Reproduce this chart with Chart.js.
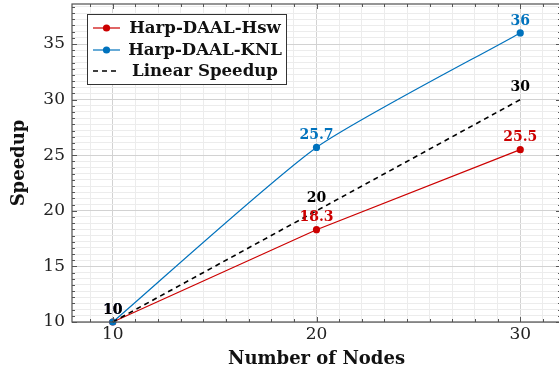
<!DOCTYPE html>
<html>
<head>
<meta charset="utf-8">
<script src="https://cdn.jsdelivr.net/npm/chart.js@4.4.1/dist/chart.umd.min.js"></script>
<style>
  html, body { margin: 0; padding: 0; background: #ffffff; overflow: hidden; }
  #wrap { width: 565px; height: 372px; position: relative; }
</style>
</head>
<body>
<div id="wrap"><canvas id="c"></canvas></div>
<script>
// ---- data ----
const nodes = [10, 20, 30];
const hswSpeedup = [10, 18.3, 25.5];
const knlSpeedup = [10, 25.7, 36];
const linearSpeedup = [10, 20, 30];
const seriesNames = ['Harp-DAAL-Hsw', 'Harp-DAAL-KNL', 'Linear Speedup'];
const xTickLabels = [10, 20, 30];
const yTickLabels = [10, 15, 20, 25, 30, 35];
const xRange = [8, 32];
const yRange = [10, 38.6];
const minorPerMajor = 8;

const RED = '#cc0000';
const BLUE = '#0072bd';
const BLACK = '#000000';
const SERIF = '"DejaVu Serif", serif';

function pts(ys) { return nodes.map((x, i) => ({ x: x, y: ys[i] })); }
function isIn(arr, v) { return arr.some(t => Math.abs(t - v) < 1e-6); }
function buildTicks(labels, lo, hi) {
  const step = (labels[1] - labels[0]) / (minorPerMajor + 1);
  const out = [];
  const kmin = Math.ceil((lo - labels[0]) / step - 1e-9);
  const kmax = Math.floor((hi - labels[0]) / step + 1e-9);
  for (let k = kmin; k <= kmax; k++) out.push({ value: labels[0] + k * step });
  return out;
}

const boxAndTicks = {
  id: 'boxAndTicks',
  afterDatasetsDraw(chart) {
    const ctx = chart.ctx, a = chart.chartArea;
    const xs = chart.scales.x, ys = chart.scales.y;
    ctx.save();
    ctx.strokeStyle = '#555555';
    ctx.lineWidth = 1;
    xs.ticks.forEach(t => {
      const p = Math.round(xs.getPixelForValue(t.value)) + 0.5;
      const len = isIn(xTickLabels, t.value) ? 5 : 3;
      ctx.beginPath();
      ctx.moveTo(p, a.bottom); ctx.lineTo(p, a.bottom - len);
      ctx.moveTo(p, a.top); ctx.lineTo(p, a.top + len);
      ctx.stroke();
    });
    ys.ticks.forEach(t => {
      const p = Math.round(ys.getPixelForValue(t.value)) + 0.5;
      const len = isIn(yTickLabels, t.value) ? 5 : 3;
      ctx.beginPath();
      ctx.moveTo(a.left, p); ctx.lineTo(a.left + len, p);
      ctx.moveTo(a.right, p); ctx.lineTo(a.right - len, p);
      ctx.stroke();
    });
    ctx.lineWidth = 1.2;
    ctx.strokeStyle = '#505050';
    ctx.strokeRect(a.left, a.top, a.right - a.left, a.bottom - a.top);
    ctx.restore();
  }
};

const valueLabels = {
  id: 'valueLabels',
  afterDatasetsDraw(chart) {
    const ctx = chart.ctx;
    ctx.save();
    ctx.font = 'bold 14px ' + SERIF;
    ctx.textAlign = 'center';
    ctx.textBaseline = 'middle';
    chart.data.datasets.forEach((ds, i) => {
      const meta = chart.getDatasetMeta(i);
      ctx.fillStyle = ds.labelColor;
      meta.data.forEach((pt, j) => {
        const v = ds.data[j].y;
        ctx.fillText(String(v), pt.x, pt.y - 12);
      });
    });
    ctx.restore();
  }
};

const boxLegend = {
  id: 'boxLegend',
  afterDraw(chart) {
    const ctx = chart.ctx;
    const L = 87, T = 14, R = 287, B = 85;
    ctx.save();
    ctx.fillStyle = '#ffffff';
    ctx.fillRect(L, T, R - L, B - T);
    ctx.strokeStyle = '#333333';
    ctx.lineWidth = 1;
    ctx.strokeRect(L + 0.5, T + 0.5, R - L - 1, B - T - 1);
    const rows = [28, 50, 71];
    chart.data.datasets.forEach((ds, i) => {
      const y = rows[i];
      ctx.strokeStyle = ds.borderColor;
      ctx.lineWidth = ds.borderWidth;
      ctx.setLineDash(ds.borderDash || []);
      ctx.beginPath();
      ctx.moveTo(93, y); ctx.lineTo(120, y);
      ctx.stroke();
      ctx.setLineDash([]);
      if (ds.pointRadius > 0) {
        ctx.fillStyle = ds.pointBackgroundColor;
        ctx.beginPath();
        ctx.arc(106.5, y, 3.6, 0, Math.PI * 2);
        ctx.fill();
      }
      ctx.fillStyle = '#111111';
      ctx.font = 'bold 16.6px ' + SERIF;
      ctx.textAlign = 'center';
      ctx.textBaseline = 'middle';
      ctx.fillText(ds.label, 205, y + 1);
    });
    ctx.restore();
  }
};

new Chart(document.getElementById('c'), {
  type: 'line',
  data: {
    datasets: [
      { label: seriesNames[0], data: pts(hswSpeedup), borderColor: RED, backgroundColor: RED,
        pointBackgroundColor: RED, pointBorderWidth: 0, pointRadius: 3.6, borderWidth: 1.2,
        tension: 0, labelColor: RED, order: 3, clip: false },
      { label: seriesNames[1], data: pts(knlSpeedup), borderColor: BLUE, backgroundColor: BLUE,
        pointBackgroundColor: BLUE, pointBorderWidth: 0, pointRadius: 3.6, borderWidth: 1.2,
        tension: 0.2, labelColor: BLUE, order: 2, clip: false },
      { label: seriesNames[2], data: pts(linearSpeedup), borderColor: BLACK, backgroundColor: BLACK,
        pointRadius: 0, borderWidth: 1.6, borderDash: [5, 4],
        tension: 0, labelColor: BLACK, order: 1, clip: false }
    ]
  },
  options: {
    responsive: true,
    maintainAspectRatio: false,
    devicePixelRatio: 1,
    animation: false,
    events: [],
    layout: { padding: { top: 4, right: 3, left: 0, bottom: 0 } },
    plugins: { legend: { display: false }, tooltip: { enabled: false } },
    scales: {
      x: {
        type: 'linear',
        min: xRange[0], max: xRange[1],
        afterBuildTicks(s) { s.ticks = buildTicks(xTickLabels, xRange[0], xRange[1]); },
        afterFit(s) { s.height = 50; s.paddingLeft = 0; s.paddingRight = 0; },
        border: { display: false },
        grid: {
          drawTicks: false,
          color: c => isIn(xTickLabels, c.tick.value) ? '#d2d2d2' : '#ececec',
          lineWidth: 1
        },
        ticks: {
          autoSkip: false, maxRotation: 0, padding: 2,
          color: '#222222',
          font: { family: SERIF, size: 17 },
          callback: v => isIn(xTickLabels, v) ? String(Math.round(v)) : ''
        },
        title: {
          display: true, text: 'Number of Nodes', color: '#111111',
          font: { family: SERIF, size: 18, weight: 'bold' },
          padding: { top: 0, bottom: 2 }
        }
      },
      y: {
        type: 'linear',
        min: yRange[0], max: yRange[1],
        afterBuildTicks(s) { s.ticks = buildTicks(yTickLabels, yRange[0], yRange[1]); },
        afterFit(s) { s.width = 72; s.paddingTop = 0; s.paddingBottom = 0; },
        border: { display: false },
        grid: {
          drawTicks: false,
          color: c => isIn(yTickLabels, c.tick.value) ? '#d2d2d2' : '#ececec',
          lineWidth: 1
        },
        ticks: {
          autoSkip: false, padding: 7,
          color: '#222222',
          font: { family: SERIF, size: 17 },
          callback: v => isIn(yTickLabels, v) ? String(Math.round(v)) : ''
        },
        title: {
          display: true, text: 'Speedup', color: '#111111',
          font: { family: SERIF, size: 18, weight: 'bold' },
          padding: { top: 9, bottom: 0 }
        }
      }
    }
  },
  plugins: [boxAndTicks, valueLabels, boxLegend]
});
</script>
</body>
</html>
